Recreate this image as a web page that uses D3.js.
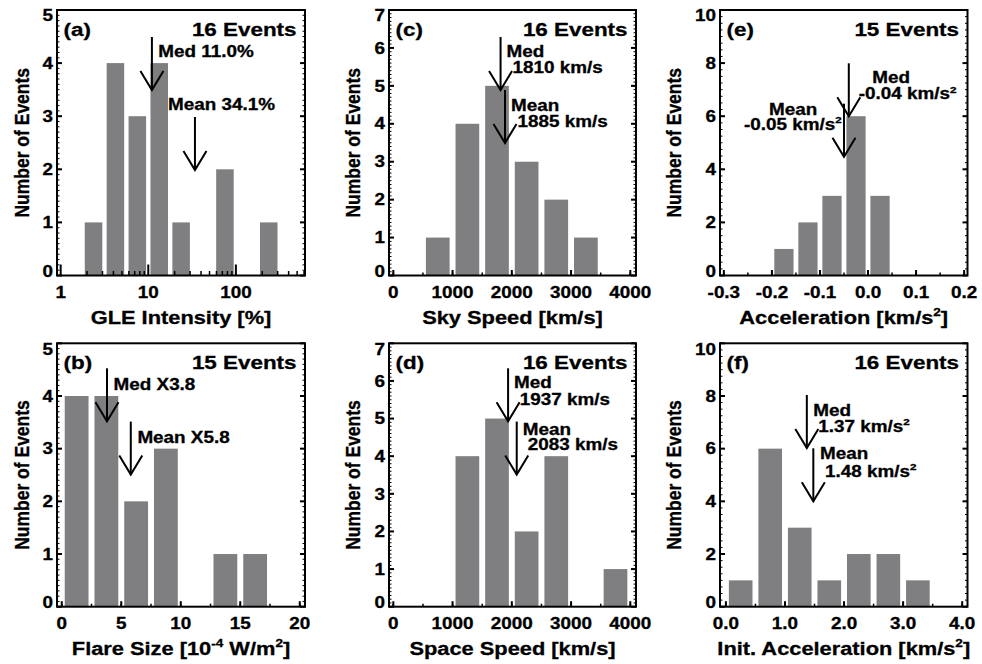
<!DOCTYPE html>
<html>
<head>
<meta charset="utf-8">
<script src="https://cdn.jsdelivr.net/npm/d3@7"></script>
<style>
  body { margin: 0; background: #fff; }
  svg { display: block; }
  text { font-family: "Liberation Sans", Arial, Helvetica, sans-serif; font-weight: bold; fill: #000; stroke: #000; stroke-width: 0.3px; }
</style>
</head>
<body>
<div id="chart"></div>
<script>
// ---- data ----
// (a) GLE intensity, bins are log10(%) lower edges, width 0.25 in log
const gleLogBins = [0.25, 0.5, 0.75, 1.0, 1.25, 1.5, 1.75, 2.0, 2.25];
const gleCounts = [1, 4, 3, 4, 1, 0, 2, 0, 1];
// (b) flare size [1e-4 W/m2], width 2.5
const flareBins = [0, 2.5, 5, 7.5, 10, 12.5, 15];
const flareCounts = [4, 4, 2, 3, 0, 1, 1];
// (c) sky speed, width 500
const skyBins = [500, 1000, 1500, 2000, 2500, 3000];
const skyCounts = [1, 4, 5, 3, 2, 1];
// (d) space speed, width 500
const spaceBins = [1000, 1500, 2000, 2500, 3000, 3500];
const spaceCounts = [4, 5, 2, 4, 0, 1];
// (e) acceleration, width 0.05
const accelBins = [-0.2, -0.15, -0.1, -0.05, 0];
const accelCounts = [1, 2, 3, 6, 3];
// (f) initial acceleration, width 0.5
const initBins = [0, 0.5, 1, 1.5, 2, 2.5, 3];
const initCounts = [1, 6, 3, 1, 2, 2, 1];

const panelLetters = ["a", "b", "c", "d", "e", "f"];
const eventTotals = [16, 15, 16, 16, 15, 16];
const medians = [11.0, 3.8, 1810, 1937, -0.04, 1.37];
const means = [34.1, 5.8, 1885, 2083, -0.05, 1.48];
const medLabels = [
  ["Med 11.0%"], ["Med X3.8"], ["Med", "1810 km/s"], ["Med", "1937 km/s"],
  ["Med", "-0.04 km/s^{2}"], ["Med", "1.37 km/s^{2}"]
];
const meanLabels = [
  ["Mean 34.1%"], ["Mean X5.8"], ["Mean", "1885 km/s"], ["Mean", "2083 km/s"],
  ["Mean", "-0.05 km/s^{2}"], ["Mean", "1.48 km/s^{2}"]
];

const gleTicks = [1, 10, 100];
const flareTicks = [0, 5, 10, 15, 20];
const speedTicks = [0, 1000, 2000, 3000, 4000];
const accelTicks = [-0.3, -0.2, -0.1, 0.0, 0.1, 0.2];
const initTicks = [0, 1, 2, 3, 4];
const countTicks5 = [0, 1, 2, 3, 4, 5];
const countTicks7 = [0, 1, 2, 3, 4, 5, 6, 7];
const countTicks10 = [0, 2, 4, 6, 8, 10];

const xTitles = [
  "GLE Intensity [%]", "Flare Size [10^{-4} W/m^{2}]", "Sky Speed [km/s]",
  "Space Speed [km/s]", "Acceleration [km/s^{2}]", "Init. Acceleration [km/s^{2}]"
];
const yTitle = "Number of Events";

// ---- layout ----
const SX = 1.18;   // the figure is a bit stretched horizontally
const BAR = "#7f7f82";
const cols = [{ L: 57, R: 305 }, { L: 389, R: 636 }, { L: 720, R: 967.5 }];
const rows = [{ T: 10, B: 275.5 }, { T: 343.3, B: 606.7 }];

const panels = [
  { col: 0, row: 0, log: true, xDomain: [0.908, 615], bins: gleLogBins, binW: 0.25, counts: gleCounts,
    xTicks: gleTicks, fmt: d => String(d), yTicks: countTicks5, yMax: 5, yMinor: 0.1, yTitleDx: -34,
    medTop: 27, meanTop: 107, medText: [[6.4, 47]], meanText: [[-27, 100]] },
  { col: 0, row: 1, xDomain: [-0.40, 20.44], bins: flareBins, binW: 2.5, counts: flareCounts,
    xTicks: flareTicks, xMinor: 2.5, fmt: d => String(d), yTicks: countTicks5, yMax: 5, yMinor: 0.1, yTitleDx: -34,
    medTop: 25, meanTop: 78.3, medText: [[6.6, 46.7]], meanText: [[6.6, 100]] },
  { col: 1, row: 0, xDomain: [-73, 4096], bins: skyBins, binW: 500, counts: skyCounts,
    xTicks: speedTicks, xMinor: 500, fmt: d => String(d), yTicks: countTicks7, yMax: 7, yMinor: 0.1, yTitleDx: -35,
    medTop: 27, meanTop: 80, medText: [[6, 47.3], [12, 62.7]], meanText: [[6, 100.7], [12.6, 116.7]] },
  { col: 1, row: 1, xDomain: [-73, 4096], bins: spaceBins, binW: 500, counts: spaceCounts,
    xTicks: speedTicks, xMinor: 500, fmt: d => String(d), yTicks: countTicks7, yMax: 7, yMinor: 0.1, yTitleDx: -35,
    medTop: 25, meanTop: 78.3, medText: [[6, 45], [11.7, 61.7]], meanText: [[6, 91.7], [11, 106.7]] },
  { col: 2, row: 0, xDomain: [-0.308, 0.207], bins: accelBins, binW: 0.05, counts: accelCounts,
    xTicks: accelTicks, xMinor: 0.05, fmt: d => d.toFixed(1), yTicks: countTicks10, yMax: 10, yMinor: 0.25, yTitleDx: -45,
    medTop: 53.3, meanTop: 93.7, medText: [[23.4, 73.3], [10, 89.3]], meanText: [[-75, 105], [-100, 120]] },
  { col: 2, row: 1, xDomain: [-0.10, 4.09], bins: initBins, binW: 0.5, counts: initCounts,
    xTicks: initTicks, xMinor: 0.5, fmt: d => d.toFixed(1), yTicks: countTicks10, yMax: 10, yMinor: 0.25, yTitleDx: -45,
    medTop: 51.7, meanTop: 105, medText: [[6.5, 72.7], [11.5, 88.4]], meanText: [[6.7, 115.7], [11.7, 133.4]] }
];

const svg = d3.select("#chart").append("svg")
  .attr("width", 982)
  .attr("height", 664);

// text with ^{..} superscripts, stretched like the original
function addText(parent, x, y, str, size, anchor, rotate) {
  const g = parent.append("g")
    .attr("transform", `translate(${x},${y}) scale(${SX},1)` + (rotate ? " rotate(-90)" : ""));
  const t = g.append("text")
    .attr("font-size", size)
    .attr("text-anchor", anchor || "start");
  const parts = str.split(/(\^\{[^}]*\})/).filter(s => s.length);
  let up = false;
  parts.forEach(p => {
    const m = p.match(/^\^\{([^}]*)\}$/);
    if (m) {
      t.append("tspan").attr("dy", -size * 0.42).attr("font-size", size * 0.62).text(m[1]);
      up = true;
    } else {
      const ts = t.append("tspan").text(p);
      if (up) { ts.attr("dy", size * 0.42); up = false; }
    }
  });
  return g;
}

function arrow(g, x, top) {
  const len = 53, tip = top + len;
  g.append("line")
    .attr("x1", x).attr("x2", x)
    .attr("y1", top).attr("y2", tip)
    .attr("stroke", "#000").attr("stroke-width", 2);
  g.append("polyline")
    .attr("points", `${x - 11.5},${tip - 19} ${x},${tip} ${x + 11.5},${tip - 19}`)
    .attr("fill", "none").attr("stroke", "#000").attr("stroke-width", 2);
}

panels.forEach((p, i) => {
  const L = cols[p.col].L, R = cols[p.col].R;
  const T = rows[p.row].T, B = rows[p.row].B;
  const g = svg.append("g");

  const x = (p.log ? d3.scaleLog() : d3.scaleLinear()).domain(p.xDomain).range([L, R]);
  const y = d3.scaleLinear().domain([0, p.yMax]).range([B, T]);
  const val = v => p.log ? Math.pow(10, v) : v;

  const barData = p.bins.map((b, j) => ({ x0: val(b), x1: val(b + p.binW), n: p.counts[j] }))
    .filter(d => d.n > 0);

  g.selectAll("rect.bar")
    .data(barData)
    .join("rect")
      .attr("class", "bar")
      .attr("x", d => { const a = x(d.x0), b = x(d.x1); return a + (b - a) * 0.1; })
      .attr("width", d => (x(d.x1) - x(d.x0)) * 0.8)
      .attr("y", d => y(d.n))
      .attr("height", d => y(0) - y(d.n))
      .attr("fill", BAR);

  // ticks
  const tk = g.append("g").attr("stroke", "#000");
  // y ticks, left and right, inward
  const yMinorTicks = d3.range(0, p.yMax + 1e-9, p.yMinor);
  yMinorTicks.forEach(v => {
    const yy = y(v);
    tk.append("line").attr("x1", L).attr("x2", L + 2.5).attr("y1", yy).attr("y2", yy).attr("stroke-width", 1);
    tk.append("line").attr("x1", R).attr("x2", R - 2.5).attr("y1", yy).attr("y2", yy).attr("stroke-width", 1);
  });
  p.yTicks.forEach(v => {
    const yy = y(v);
    tk.append("line").attr("x1", L).attr("x2", L + 5).attr("y1", yy).attr("y2", yy).attr("stroke-width", 2);
    tk.append("line").attr("x1", R).attr("x2", R - 5).attr("y1", yy).attr("y2", yy).attr("stroke-width", 2);
  });
  // x ticks, bottom, pointing up
  if (p.log) {
    const minor = [];
    [1, 10, 100].forEach(dec => d3.range(2, 10).forEach(k => minor.push(dec * k)));
    minor.filter(v => v < p.xDomain[1]).forEach(v => {
      tk.append("line").attr("x1", x(v)).attr("x2", x(v)).attr("y1", B).attr("y2", B - 4.5).attr("stroke-width", 1.5);
    });
    p.xTicks.forEach(v => {
      tk.append("line").attr("x1", x(v)).attr("x2", x(v)).attr("y1", B).attr("y2", B - 11).attr("stroke-width", 2);
    });
  } else {
    const first = p.xTicks[0], last = p.xTicks[p.xTicks.length - 1];
    d3.range(first, last + p.xMinor / 2, p.xMinor).forEach(v => {
      tk.append("line").attr("x1", x(v)).attr("x2", x(v)).attr("y1", B).attr("y2", B - 3).attr("stroke-width", 1.5);
    });
    p.xTicks.forEach(v => {
      tk.append("line").attr("x1", x(v)).attr("x2", x(v)).attr("y1", B).attr("y2", B - 5.5).attr("stroke-width", 2);
    });
  }

  // frame
  g.append("rect")
    .attr("x", L).attr("y", T)
    .attr("width", R - L).attr("height", B - T)
    .attr("fill", "none").attr("stroke", "#000").attr("stroke-width", 2);

  // tick labels
  p.xTicks.forEach(v => addText(g, x(v), B + 22.5, p.fmt(v), 16, "middle"));
  p.yTicks.forEach(v => {
    const cy = Math.min(Math.max(y(v), T + 5.5), B - 4);
    addText(g, L - 4, cy + 5.7, String(v), 16, "end");
  });

  // axis titles
  addText(g, (L + R) / 2, B + 48, xTitles[i], 18.5, "middle");
  addText(g, L + p.yTitleDx + 6, (T + B) / 2, yTitle, 17.5, "middle", true);

  // panel letter and event count
  addText(g, L + 6.5, T + 26, `(${panelLetters[i]})`, 19, "start");
  addText(g, R - 8.5, T + 26, `${eventTotals[i]} Events`, 19, "end");

  // median / mean arrows
  const xm = x(medians[i]), xa = x(means[i]);
  arrow(g, xm, T + p.medTop);
  arrow(g, xa, T + p.meanTop);
  medLabels[i].forEach((s, k) => addText(g, xm + p.medText[k][0], T + p.medText[k][1], s, 16, "start"));
  meanLabels[i].forEach((s, k) => addText(g, xa + p.meanText[k][0], T + p.meanText[k][1], s, 16, "start"));
});
</script>
</body>
</html>
